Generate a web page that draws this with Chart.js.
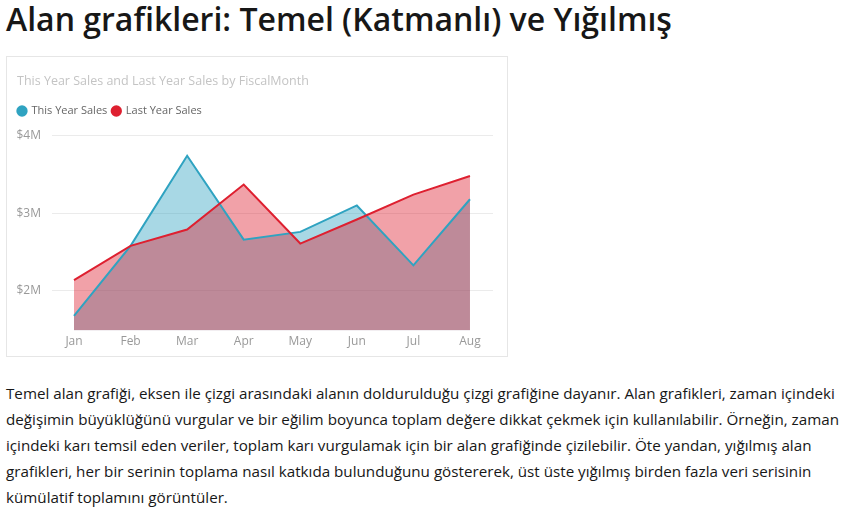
<!DOCTYPE html>
<html>
<head>
<meta charset="utf-8">
<script src="https://cdn.jsdelivr.net/npm/chart.js@4"></script>
<style>
  html, body { margin: 0; padding: 0; background: #fff; }
  body { width: 843px; height: 518px; position: relative; overflow: hidden; font-family: "Open Sans", sans-serif; }
  h1 { position: absolute; left: 6px; top: 3px; margin: 0; font-size: 32px; line-height: 1; font-weight: 600; color: #171717; white-space: nowrap; }
  .card { position: absolute; left: 6px; top: 56px; width: 502px; height: 301px; border: 1px solid #e6e6e6; box-sizing: border-box; }
  .wrap { position: absolute; left: 0; top: 0; width: 500px; height: 299px; }
  p { position: absolute; left: 6px; top: 380px; margin: 0; font-size: 15.2px; line-height: 26px; color: #171717; white-space: nowrap; }
</style>
</head>
<body>
<h1>Alan grafikleri: Temel (Katmanlı) ve Yığılmış</h1>
<div class="card"><div class="wrap"><canvas id="c"></canvas></div></div>
<p>Temel alan grafiği, eksen ile çizgi arasındaki alanın doldurulduğu çizgi grafiğine dayanır. Alan grafikleri, zaman içindeki<br>değişimin büyüklüğünü vurgular ve bir eğilim boyunca toplam değere dikkat çekmek için kullanılabilir. Örneğin, zaman<br>içindeki karı temsil eden veriler, toplam karı vurgulamak için bir alan grafiğinde çizilebilir. Öte yandan, yığılmış alan<br>grafikleri, her bir serinin toplama nasıl katkıda bulunduğunu göstererek, üst üste yığılmış birden fazla veri serisinin<br>kümülatif toplamını görüntüler.</p>
<script>
const months = ["Jan", "Feb", "Mar", "Apr", "May", "Jun", "Jul", "Aug"];
const thisYearSales = [1.68, 2.58, 3.74, 2.66, 2.76, 3.10, 2.33, 3.18];
const lastYearSales = [2.14, 2.58, 2.79, 3.37, 2.61, 2.92, 3.24, 3.48];
const yTicks = [2, 3, 4];

const toPoints = arr => arr.map((v, i) => ({ x: i, y: v }));
const FONT = "'Open Sans', sans-serif";

const legendShift = {
  id: 'legendShift',
  afterLayout(chart) {
    if (chart.legend) { chart.legend.left -= 4; chart.legend.right -= 4; }
  }
};

new Chart(document.getElementById('c'), {
  type: 'line',
  data: {
    datasets: [
      {
        label: 'This Year Sales',
        data: toPoints(thisYearSales),
        borderColor: '#2fa3c1',
        backgroundColor: 'rgba(47,163,193,0.42)',
        fill: 'start',
        borderWidth: 2,
        pointRadius: 0,
        tension: 0,
        order: 2
      },
      {
        label: 'Last Year Sales',
        data: toPoints(lastYearSales),
        borderColor: '#de2030',
        backgroundColor: 'rgba(221,32,48,0.42)',
        fill: 'start',
        borderWidth: 2,
        pointRadius: 0,
        tension: 0,
        order: 1
      }
    ]
  },
  options: {
    responsive: true,
    maintainAspectRatio: false,
    animation: false,
    layout: { padding: { left: 10, right: 14, top: 0, bottom: 3 } },
    plugins: {
      filler: { drawTime: 'beforeDatasetsDraw' },
      tooltip: { enabled: false },
      title: {
        display: true,
        text: 'This Year Sales and Last Year Sales by FiscalMonth',
        align: 'start',
        color: '#c4c4c4',
        font: { family: FONT, size: 12.5, weight: 'normal' },
        padding: { top: 17, bottom: 11.5 }
      },
      legend: {
        display: true,
        align: 'start',
        labels: {
          usePointStyle: true,
          pointStyle: 'circle',
          boxWidth: 8,
          boxHeight: 8,
          padding: 5,
          color: '#666666',
          font: { family: FONT, size: 11 },
          generateLabels: (ch) => ch.data.datasets.map((ds, i) => ({
            text: ds.label,
            fillStyle: ds.borderColor,
            strokeStyle: ds.borderColor,
            lineWidth: 0,
            pointStyle: 'circle',
            hidden: false,
            datasetIndex: i,
            fontColor: '#666666'
          }))
        }
      }
    },
    scales: {
      x: {
        type: 'linear',
        min: -0.389,
        max: 7.407,
        grid: { display: false, drawTicks: false },
        border: { display: false },
        afterBuildTicks: (s) => { s.ticks = months.map((m, i) => ({ value: i })); },
        ticks: {
          padding: 4,
          color: '#999999',
          font: { family: FONT, size: 12 },
          autoSkip: false,
          maxRotation: 0,
          callback: (v) => months[v]
        }
      },
      y: {
        min: 1.49,
        max: 4.116,
        grid: { color: '#ebebeb', lineWidth: 1, drawTicks: false },
        border: { display: false },
        afterBuildTicks: (s) => { s.ticks = yTicks.map(v => ({ value: v })); },
        afterFit: (s) => { s.width = 35; },
        ticks: {
          padding: 11,
          color: '#999999',
          font: { family: FONT, size: 12 },
          callback: (v) => '$' + v + 'M'
        }
      }
    }
  },
  plugins: [legendShift]
});
</script>
</body>
</html>
